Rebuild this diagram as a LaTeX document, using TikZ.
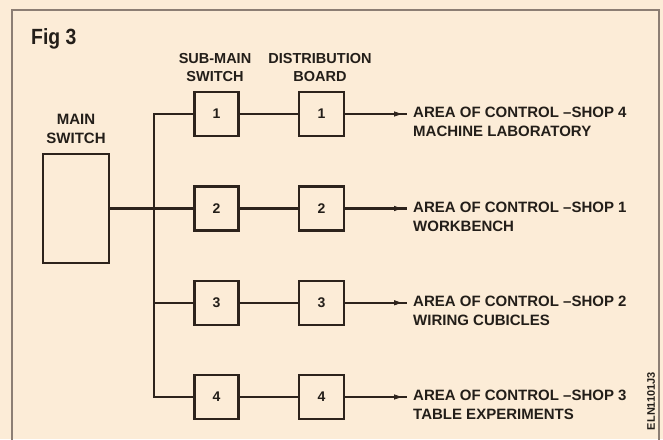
\documentclass[tikz,border=0pt]{standalone}
\usepackage{fontspec}
\setmainfont{Liberation Sans}
\newfontfamily\figfont[FakeStretch=0.88]{Liberation Sans}
\usetikzlibrary{arrows.meta,decorations.markings}
\definecolor{bgc}{RGB}{252,236,215}
\definecolor{framec}{RGB}{140,126,116}
\definecolor{linec}{RGB}{45,35,28}
\definecolor{textc}{RGB}{35,30,25}
\tikzset{
  wire/.style={draw=linec,line width=2.2pt},
  swbox/.style={draw=linec,line width=2.2pt,minimum width=44pt,minimum height=44pt,inner sep=0pt,
    font=\fontsize{14}{14}\selectfont\bfseries,text=textc},
  dbbox/.style={swbox,minimum width=45pt},
  mainbox/.style={draw=linec,line width=2.2pt,minimum width=66pt,minimum height=109pt,inner sep=0pt},
  lbl/.style={inner sep=0pt,align=center,text=textc,font=\fontsize{14.5}{18.5}\selectfont\bfseries},
  area/.style={inner sep=0pt,align=left,anchor=north west,text=textc,font=\fontsize{15}{19}\selectfont\bfseries},
  feed/.style={draw=linec,line width=2.2pt,postaction={decorate},
    decoration={markings,mark=at position -4pt with {\arrow[line width=0.8pt]{Latex[length=9pt,width=5.5pt]}}}}
}
\begin{document}
\begin{tikzpicture}[x=1pt,y=-1pt]
\useasboundingbox (0,0) rectangle (663,439);
\fill[bgc] (0,0) rectangle (663,439);
\draw[framec,line width=1.5pt] (12,460) -- (12,10) -- (659,10) -- (659,460);

\node[anchor=north west,inner sep=0pt,text=textc,font=\figfont\fontsize{22}{22}\selectfont\bfseries] (fig) at (31,28) {Fig 3};

\node[lbl,anchor=north] (hsub) at (215,53) {SUB-MAIN\\SWITCH};
\node[lbl,anchor=north] (hdb) at (320,53) {DISTRIBUTION\\BOARD};
\node[lbl,anchor=north,font=\fontsize{15}{19}\selectfont\bfseries] (hms) at (76,114) {MAIN\\SWITCH};

\node[mainbox] (ms) at (76,208.5) {};

\foreach \i/\y in {1/114,2/208.5,3/302.8,4/397}{
  \node[swbox] (s\i) at (216.5,\y) {\i};
  \node[dbbox] (d\i) at (321.5,\y) {\i};
  \coordinate (e\i) at (407,\y);
  \draw[wire] (s\i) -- (d\i);
  \draw[feed] (d\i.east) -- (e\i);
}

\coordinate (bt) at (154,114);
\coordinate (bb) at (154,397);
\draw[wire] (s1.west) -- (bt) -- (bb) -- (s4.west);
\draw[wire] (ms.east) -- (s2.west);
\draw[wire] (bt |- s3.west) -- (s3.west);

\node[area] (a1) at (413,107) {AREA OF CONTROL --SHOP 4\\MACHINE LABORATORY};
\node[area] (a2) at (413,201.5) {AREA OF CONTROL --SHOP 1\\WORKBENCH};
\node[area] (a3) at (413,295.8) {AREA OF CONTROL --SHOP 2\\WIRING CUBICLES};
\node[area] (a4) at (413,390) {AREA OF CONTROL --SHOP 3\\TABLE EXPERIMENTS};

\node[rotate=90,inner sep=0pt,text=textc,font=\fontsize{11}{11}\selectfont\bfseries] (code) at (651,401) {ELN1101J3};
\end{tikzpicture}
\end{document}
